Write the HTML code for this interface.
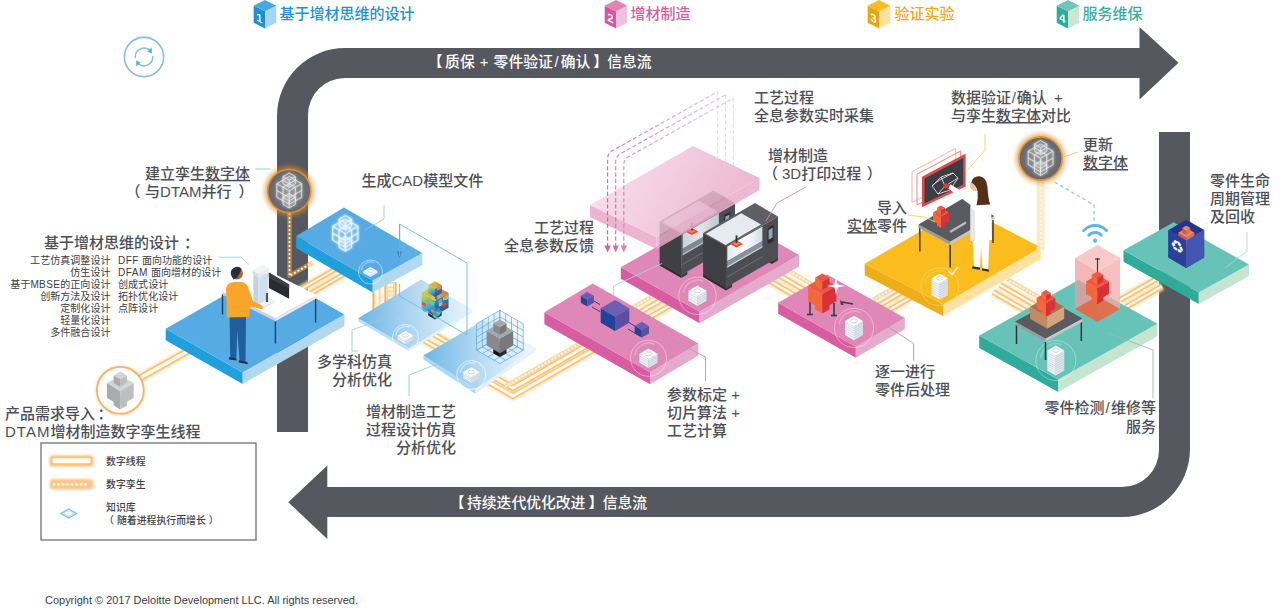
<!DOCTYPE html>
<html lang="zh"><head><meta charset="utf-8"><title>DTAM</title>
<style>
html,body{margin:0;padding:0;background:#fff;}
body{width:1282px;height:613px;overflow:hidden;font-family:"Liberation Sans","Noto Sans CJK SC",sans-serif;}
svg{display:block;}
svg text{font-family:"Liberation Sans","Noto Sans CJK SC",sans-serif;}
</style></head><body>
<svg width="1282" height="613" viewBox="0 0 1282 613">
<defs>
<linearGradient id="gP3" x1="0" y1="0" x2="1" y2="0"><stop offset="0" stop-color="#6db7e6"/><stop offset="0.55" stop-color="#b9dcf3"/><stop offset="1" stop-color="#eef6fc"/></linearGradient>
<linearGradient id="gP4" x1="0" y1="0" x2="1" y2="0"><stop offset="0" stop-color="#6db7e6"/><stop offset="0.6" stop-color="#c4e1f5"/><stop offset="1" stop-color="#f2f8fd"/></linearGradient>
<linearGradient id="gFloat" x1="0" y1="0.3" x2="1" y2="0.6"><stop offset="0" stop-color="#f7dce9"/><stop offset="1" stop-color="#e9a6c9"/></linearGradient>
<linearGradient id="gGlass" x1="0" y1="0" x2="1" y2="0"><stop offset="0" stop-color="#dfe9ef"/><stop offset="0.5" stop-color="#ffffff"/><stop offset="1" stop-color="#cfdde6"/></linearGradient>
<linearGradient id="gDash0" gradientUnits="userSpaceOnUse" x1="607" y1="200" x2="720" y2="92"><stop offset="0" stop-color="#d4609b"/><stop offset="1" stop-color="#f0c2d9"/></linearGradient>
<linearGradient id="gDash1" gradientUnits="userSpaceOnUse" x1="615" y1="200" x2="728" y2="95"><stop offset="0" stop-color="#d96fa5"/><stop offset="1" stop-color="#f0c2d9"/></linearGradient>
<linearGradient id="gDash2" gradientUnits="userSpaceOnUse" x1="623" y1="200" x2="736" y2="98"><stop offset="0" stop-color="#de80b0"/><stop offset="1" stop-color="#f2cadd"/></linearGradient>
<linearGradient id="gJetL" x1="0" y1="0" x2="0.3" y2="1"><stop offset="0" stop-color="#e8d23a"/><stop offset="0.4" stop-color="#7fc46a"/><stop offset="0.7" stop-color="#3aa6d8"/><stop offset="1" stop-color="#2a62b0"/></linearGradient>
<linearGradient id="gJetR" x1="0" y1="0" x2="0.2" y2="1"><stop offset="0" stop-color="#e2662c"/><stop offset="0.3" stop-color="#2f78c0"/><stop offset="1" stop-color="#1f3f86"/></linearGradient>
<linearGradient id="gJetT" x1="0" y1="0" x2="1" y2="0"><stop offset="0" stop-color="#d9c62f"/><stop offset="0.6" stop-color="#e9a62b"/><stop offset="1" stop-color="#e2552c"/></linearGradient>
<radialGradient id="gDisc"><stop offset="0" stop-color="#84868b"/><stop offset="1" stop-color="#64676c"/></radialGradient>
<filter id="blur1" x="-20%" y="-20%" width="140%" height="140%"><feGaussianBlur stdDeviation="1.3"/></filter>
<filter id="blur2" x="-30%" y="-30%" width="160%" height="160%"><feGaussianBlur stdDeviation="2"/></filter>
<filter id="blur05" x="-20%" y="-20%" width="140%" height="140%"><feGaussianBlur stdDeviation="0.6"/></filter>
</defs>
<rect width="1282" height="613" fill="#ffffff"/>
<path d="M277,432 L277,116 A68,68 0 0 1 345,48 L1139.5,48 L1139.5,27 L1178.5,62.8 L1139.5,99.5 L1139.5,78 L345,78 A37,37 0 0 0 308,115 L308,432 Z" fill="#55585e"/>
<path d="M1159,132 L1190,132 L1190,449 A68,68 0 0 1 1122,517 L327.3,517 L327.3,539 L288.3,502.2 L327.3,465.5 L327.3,487 L1122,487 A37,37 0 0 0 1159,450 Z" fill="#55585e"/>
<polygon points="253.7,5.7 265.0,11.3 265.0,28.4 253.7,22.7" fill="#1f8fd2" />
<polygon points="265.0,11.3 276.3,5.7 276.3,22.7 265.0,28.4" fill="#a8d6ee" />
<polygon points="253.7,5.7 265.0,0.1 276.3,5.7 265.0,11.3" fill="#4aa8e2" />
<text x="0" y="0" font-size="11.5" font-weight="700" fill="#fff" text-anchor="middle" font-family="DejaVu Sans, Liberation Sans, sans-serif" transform="translate(259.4,22) skewY(26.5)" opacity="0.92">1</text>
<polygon points="604.7,5.7 616.0,11.3 616.0,28.4 604.7,22.7" fill="#d6579e" />
<polygon points="616.0,11.3 627.3,5.7 627.3,22.7 616.0,28.4" fill="#efc3db" />
<polygon points="604.7,5.7 616.0,0.1 627.3,5.7 616.0,11.3" fill="#e283b4" />
<text x="0" y="0" font-size="11.5" font-weight="700" fill="#fff" text-anchor="middle" font-family="DejaVu Sans, Liberation Sans, sans-serif" transform="translate(610.4,22) skewY(26.5)" opacity="0.92">2</text>
<polygon points="867.7,5.7 879.0,11.3 879.0,28.4 867.7,22.7" fill="#e8a616" />
<polygon points="879.0,11.3 890.3,5.7 890.3,22.7 879.0,28.4" fill="#fbe2a0" />
<polygon points="867.7,5.7 879.0,0.1 890.3,5.7 879.0,11.3" fill="#fbbc1d" />
<text x="0" y="0" font-size="11.5" font-weight="700" fill="#fff" text-anchor="middle" font-family="DejaVu Sans, Liberation Sans, sans-serif" transform="translate(873.4,22) skewY(26.5)" opacity="0.92">3</text>
<polygon points="1056.7,5.7 1068.0,11.3 1068.0,28.4 1056.7,22.7" fill="#2fab9b" />
<polygon points="1068.0,11.3 1079.3,5.7 1079.3,22.7 1068.0,28.4" fill="#c9e8d2" />
<polygon points="1056.7,5.7 1068.0,0.1 1079.3,5.7 1068.0,11.3" fill="#6ec6ba" />
<text x="0" y="0" font-size="11.5" font-weight="700" fill="#fff" text-anchor="middle" font-family="DejaVu Sans, Liberation Sans, sans-serif" transform="translate(1062.4,22) skewY(26.5)" opacity="0.92">4</text>
<g fill="none" stroke="#86bde4" stroke-linecap="round"><circle cx="144" cy="57" r="19.6" stroke-width="1.6"/><path d="M135.3,57.5 A8.8,8.8 0 0 1 150.5,51" stroke-width="1.5"/><path d="M152.7,56.5 A8.8,8.8 0 0 1 137.5,63" stroke-width="1.5"/></g>
<path d="M147.3,51.6 L151.7,47.6 L151.8,53.4 Z" fill="#5aa9e0"/><path d="M140.7,62.4 L136.3,66.4 L136.2,60.6 Z" fill="#5aa9e0"/>
<polyline points="140.0,378.0 196.0,346.5" fill="none" stroke="#fcdcaa" stroke-width="9.5" stroke-linejoin="miter" opacity="0.75" filter="url(#blur1)"/>
<polyline points="140.0,378.0 196.0,346.5" fill="none" stroke="#f9c272" stroke-width="6.6" stroke-linejoin="miter"/>
<polyline points="140.0,378.0 196.0,346.5" fill="none" stroke="#fffaf1" stroke-width="3.4" stroke-linejoin="miter"/>
<polyline points="478.0,376.0 513.0,396.0 600.0,346.0" fill="none" stroke="#fcdcaa" stroke-width="9.0" stroke-linejoin="miter" opacity="0.75" filter="url(#blur1)"/>
<polyline points="478.0,376.0 513.0,396.0 600.0,346.0" fill="none" stroke="#f9c272" stroke-width="6.1" stroke-linejoin="miter"/>
<polyline points="478.0,376.0 513.0,396.0 600.0,346.0" fill="none" stroke="#fffaf1" stroke-width="2.9" stroke-linejoin="miter"/>
<polyline points="478.0,368.0 513.0,388.0 600.0,338.0" fill="none" stroke="#fcdcaa" stroke-width="9.0" stroke-linejoin="miter" opacity="0.75" filter="url(#blur1)"/>
<polyline points="478.0,368.0 513.0,388.0 600.0,338.0" fill="none" stroke="#f9c272" stroke-width="6.1" stroke-linejoin="miter"/>
<polyline points="478.0,368.0 513.0,388.0 600.0,338.0" fill="none" stroke="#fffaf1" stroke-width="2.9" stroke-linejoin="miter"/>
<polyline points="506.0,386.0 600.0,332.0" fill="none" stroke="#fbd6a2" stroke-width="4.6" opacity="0.95" filter="url(#blur05)"/>
<polyline points="506.0,386.0 600.0,332.0" fill="none" stroke="#fff5e4" stroke-width="2.3" stroke-dasharray="0.1 3.7" stroke-linecap="round"/>
<polyline points="428.0,331.0 468.0,354.0" fill="none" stroke="#fcdcaa" stroke-width="8.5" stroke-linejoin="miter" opacity="0.75" filter="url(#blur1)"/>
<polyline points="428.0,331.0 468.0,354.0" fill="none" stroke="#f9c272" stroke-width="5.6" stroke-linejoin="miter"/>
<polyline points="428.0,331.0 468.0,354.0" fill="none" stroke="#fffaf1" stroke-width="2.4" stroke-linejoin="miter"/>
<polyline points="420.0,338.0 460.0,361.0" fill="none" stroke="#fcdcaa" stroke-width="8.5" stroke-linejoin="miter" opacity="0.75" filter="url(#blur1)"/>
<polyline points="420.0,338.0 460.0,361.0" fill="none" stroke="#f9c272" stroke-width="5.6" stroke-linejoin="miter"/>
<polyline points="420.0,338.0 460.0,361.0" fill="none" stroke="#fffaf1" stroke-width="2.4" stroke-linejoin="miter"/>
<polyline points="630.0,318.0 672.0,294.0" fill="none" stroke="#fcdcaa" stroke-width="8.5" stroke-linejoin="miter" opacity="0.75" filter="url(#blur1)"/>
<polyline points="630.0,318.0 672.0,294.0" fill="none" stroke="#f9c272" stroke-width="5.6" stroke-linejoin="miter"/>
<polyline points="630.0,318.0 672.0,294.0" fill="none" stroke="#fffaf1" stroke-width="2.4" stroke-linejoin="miter"/>
<polyline points="636.0,325.0 678.0,301.0" fill="none" stroke="#fcdcaa" stroke-width="8.5" stroke-linejoin="miter" opacity="0.75" filter="url(#blur1)"/>
<polyline points="636.0,325.0 678.0,301.0" fill="none" stroke="#f9c272" stroke-width="5.6" stroke-linejoin="miter"/>
<polyline points="636.0,325.0 678.0,301.0" fill="none" stroke="#fffaf1" stroke-width="2.4" stroke-linejoin="miter"/>
<polyline points="625.0,312.0 667.0,288.0" fill="none" stroke="#fbd6a2" stroke-width="4.6" opacity="0.95" filter="url(#blur05)"/>
<polyline points="625.0,312.0 667.0,288.0" fill="none" stroke="#fff5e4" stroke-width="2.3" stroke-dasharray="0.1 3.7" stroke-linecap="round"/>
<polyline points="770.0,270.0 806.0,291.0" fill="none" stroke="#fcdcaa" stroke-width="8.5" stroke-linejoin="miter" opacity="0.75" filter="url(#blur1)"/>
<polyline points="770.0,270.0 806.0,291.0" fill="none" stroke="#f9c272" stroke-width="5.6" stroke-linejoin="miter"/>
<polyline points="770.0,270.0 806.0,291.0" fill="none" stroke="#fffaf1" stroke-width="2.4" stroke-linejoin="miter"/>
<polyline points="763.0,277.0 799.0,298.0" fill="none" stroke="#fcdcaa" stroke-width="8.5" stroke-linejoin="miter" opacity="0.75" filter="url(#blur1)"/>
<polyline points="763.0,277.0 799.0,298.0" fill="none" stroke="#f9c272" stroke-width="5.6" stroke-linejoin="miter"/>
<polyline points="763.0,277.0 799.0,298.0" fill="none" stroke="#fffaf1" stroke-width="2.4" stroke-linejoin="miter"/>
<polyline points="777.0,264.0 813.0,285.0" fill="none" stroke="#fbd6a2" stroke-width="4.6" opacity="0.95" filter="url(#blur05)"/>
<polyline points="777.0,264.0 813.0,285.0" fill="none" stroke="#fff5e4" stroke-width="2.3" stroke-dasharray="0.1 3.7" stroke-linecap="round"/>
<polyline points="878.0,306.0 928.0,277.0" fill="none" stroke="#fcdcaa" stroke-width="8.5" stroke-linejoin="miter" opacity="0.75" filter="url(#blur1)"/>
<polyline points="878.0,306.0 928.0,277.0" fill="none" stroke="#f9c272" stroke-width="5.6" stroke-linejoin="miter"/>
<polyline points="878.0,306.0 928.0,277.0" fill="none" stroke="#fffaf1" stroke-width="2.4" stroke-linejoin="miter"/>
<polyline points="884.0,313.0 934.0,284.0" fill="none" stroke="#fcdcaa" stroke-width="8.5" stroke-linejoin="miter" opacity="0.75" filter="url(#blur1)"/>
<polyline points="884.0,313.0 934.0,284.0" fill="none" stroke="#f9c272" stroke-width="5.6" stroke-linejoin="miter"/>
<polyline points="884.0,313.0 934.0,284.0" fill="none" stroke="#fffaf1" stroke-width="2.4" stroke-linejoin="miter"/>
<polyline points="873.0,300.0 923.0,271.0" fill="none" stroke="#fbd6a2" stroke-width="4.6" opacity="0.95" filter="url(#blur05)"/>
<polyline points="873.0,300.0 923.0,271.0" fill="none" stroke="#fff5e4" stroke-width="2.3" stroke-dasharray="0.1 3.7" stroke-linecap="round"/>
<polyline points="1000.0,285.0 1040.0,308.0" fill="none" stroke="#fcdcaa" stroke-width="8.5" stroke-linejoin="miter" opacity="0.75" filter="url(#blur1)"/>
<polyline points="1000.0,285.0 1040.0,308.0" fill="none" stroke="#f9c272" stroke-width="5.6" stroke-linejoin="miter"/>
<polyline points="1000.0,285.0 1040.0,308.0" fill="none" stroke="#fffaf1" stroke-width="2.4" stroke-linejoin="miter"/>
<polyline points="993.0,292.0 1033.0,315.0" fill="none" stroke="#fcdcaa" stroke-width="8.5" stroke-linejoin="miter" opacity="0.75" filter="url(#blur1)"/>
<polyline points="993.0,292.0 1033.0,315.0" fill="none" stroke="#f9c272" stroke-width="5.6" stroke-linejoin="miter"/>
<polyline points="993.0,292.0 1033.0,315.0" fill="none" stroke="#fffaf1" stroke-width="2.4" stroke-linejoin="miter"/>
<polyline points="1007.0,279.0 1047.0,302.0" fill="none" stroke="#fbd6a2" stroke-width="4.6" opacity="0.95" filter="url(#blur05)"/>
<polyline points="1007.0,279.0 1047.0,302.0" fill="none" stroke="#fff5e4" stroke-width="2.3" stroke-dasharray="0.1 3.7" stroke-linecap="round"/>
<polyline points="1120.0,300.0 1156.0,279.3" fill="none" stroke="#fcdcaa" stroke-width="8.5" stroke-linejoin="miter" opacity="0.75" filter="url(#blur1)"/>
<polyline points="1120.0,300.0 1156.0,279.3" fill="none" stroke="#f9c272" stroke-width="5.6" stroke-linejoin="miter"/>
<polyline points="1120.0,300.0 1156.0,279.3" fill="none" stroke="#fffaf1" stroke-width="2.4" stroke-linejoin="miter"/>
<polyline points="1126.0,307.0 1162.0,286.3" fill="none" stroke="#fcdcaa" stroke-width="8.5" stroke-linejoin="miter" opacity="0.75" filter="url(#blur1)"/>
<polyline points="1126.0,307.0 1162.0,286.3" fill="none" stroke="#f9c272" stroke-width="5.6" stroke-linejoin="miter"/>
<polyline points="1126.0,307.0 1162.0,286.3" fill="none" stroke="#fffaf1" stroke-width="2.4" stroke-linejoin="miter"/>
<polyline points="289.0,296.0 355.0,258.0" fill="none" stroke="#fcdcaa" stroke-width="8.0" stroke-linejoin="miter" opacity="0.75" filter="url(#blur1)"/>
<polyline points="289.0,296.0 355.0,258.0" fill="none" stroke="#f9c272" stroke-width="5.1" stroke-linejoin="miter"/>
<polyline points="289.0,296.0 355.0,258.0" fill="none" stroke="#fffaf1" stroke-width="1.9" stroke-linejoin="miter"/>
<polyline points="294.0,303.0 360.0,265.0" fill="none" stroke="#fcdcaa" stroke-width="8.0" stroke-linejoin="miter" opacity="0.75" filter="url(#blur1)"/>
<polyline points="294.0,303.0 360.0,265.0" fill="none" stroke="#f9c272" stroke-width="5.1" stroke-linejoin="miter"/>
<polyline points="294.0,303.0 360.0,265.0" fill="none" stroke="#fffaf1" stroke-width="1.9" stroke-linejoin="miter"/>
<polyline points="289.5,208.0 289.5,275.8 313.0,262.3" fill="none" stroke="#f7a843" stroke-width="4.5" opacity="0.55" filter="url(#blur05)" stroke-linejoin="round"/>
<polyline points="289.5,210.0 289.5,275.8 313.0,262.3" fill="none" stroke="#fff1dc" stroke-width="2.2" stroke-dasharray="0.1 3.9" stroke-linecap="round" />
<g >
<polygon points="165.7,328.8 242.7,372.4 242.7,383.9 165.7,340.3" fill="#1f9fdc" />
<polygon points="242.7,372.4 344.5,314.4 344.5,325.9 242.7,383.9" fill="#b0d9f0" />
<polygon points="165.7,328.8 267.5,270.8 344.5,314.4 242.7,372.4" fill="#56abe4" />
</g>
<polyline points="222.5,294.0 222.5,314.5" fill="none" stroke="#1c3f63" stroke-width="1.4" />
<polyline points="315.6,298.0 315.6,322.5" fill="none" stroke="#1c3f63" stroke-width="1.4" />
<polygon points="222.5,291.5 275.4,318.3 275.4,321.3 222.5,294.5" fill="#cdd2da" />
<polygon points="275.4,318.3 316.8,295.2 316.8,298.2 275.4,321.3" fill="#e6e9ee" />
<polygon points="222.5,291.5 263.9,268.4 316.8,295.2 275.4,318.3" fill="#ffffff" />
<polyline points="275.4,321.5 275.4,343.5" fill="none" stroke="#1c3f63" stroke-width="1.4" />
<g >
<polygon points="253.5,303.5 263.0,309.0 263.0,307.0 253.5,301.5" fill="#d5dae0" />
<polygon points="263.0,309.0 274.3,302.5 274.3,300.5 263.0,307.0" fill="#e3e7eb" />
<polygon points="253.5,301.5 264.7,295.0 274.3,300.5 263.0,307.0" fill="#f1f3f6" />
</g>
<g >
<polygon points="253.3,301.5 258.5,304.5 258.5,277.5 253.3,274.5" fill="#c3d3e0" />
<polygon points="258.5,304.5 268.0,299.0 268.0,272.0 258.5,277.5" fill="#cfe1ee" />
<polygon points="253.3,274.5 262.8,269.0 268.0,272.0 258.5,277.5" fill="#e9edf1" />
</g>
<g >
<polygon points="252.4,274.0 258.5,277.5 258.5,274.0 252.4,270.5" fill="#d9dde2" />
<polygon points="258.5,277.5 268.9,271.5 268.9,268.0 258.5,274.0" fill="#e8ebee" />
<polygon points="252.4,270.5 262.8,264.5 268.9,268.0 258.5,274.0" fill="#f1f3f5" />
</g>
<polyline points="267.0,293.0 267.0,302.0" fill="none" stroke="#4d5660" stroke-width="2.2" />
<polygon points="268.9,272.6 289.1,284.6 289.1,298.8 268.9,288.0" fill="#2a2c31" />
<polygon points="268.9,272.6 289.1,284.6 289.1,288.0 268.9,278.0" fill="#3d4047" />
<g>
<path d="M229.6,316 L230.2,357.5 L236.3,358.8 L237.3,330 L239.5,360.5 L245.5,362.2 L246,316 Z" fill="#1f5f9e"/>
<path d="M229,357 l7.5,1.6 l0,2 l-7.5,-1.2z M238.8,360.2 l8.5,1.8 l0.5,2.2 l-9,-1.6z" fill="#2b2f3a"/>
<path d="M226,290 Q226,282.5 234,282 L242,282 Q247.5,283 249,290 L253,301 L262.8,306 L262,309.2 L250.5,306.5 L249,317 L227,317.5 Z" fill="#f9a42a"/>
<circle cx="237" cy="273.5" r="6" fill="#a66a3c"/>
<path d="M231,274.5 A6.2,6.2 0 0 1 241.5,268.8 L240,272.5 L237.5,277.5 L233.5,279.5 Z" fill="#2b2f3a"/>
</g>
<rect x="372.5" y="282" width="24" height="40" fill="#fbd9a3"/>
<rect x="375" y="282" width="3.6" height="40" fill="#fff6e8"/><rect x="380.6" y="282" width="3.6" height="40" fill="#fff6e8"/>
<rect x="372.5" y="282" width="1.6" height="40" fill="#f8b55d"/><rect x="384.6" y="282" width="1.4" height="40" fill="#f8b55d"/><rect x="395" y="282" width="1.5" height="40" fill="#f8b55d"/>
<polyline points="390.5,284.0 390.5,322.0" fill="none" stroke="#fff6e8" stroke-width="5" stroke-dasharray="2.4 1.8"/>
<polygon points="358.3,318.3 409.2,348.3 409.2,351.3 358.3,321.3" fill="#bfe0f4" />
<polygon points="409.2,348.3 472.0,309.5 472.0,312.5 409.2,351.3" fill="#e3f1fa" />
<polygon points="358.3,318.3 421.1,279.5 472.0,309.5 409.2,348.3" fill="url(#gP3)" />
<circle cx="405.5" cy="337.5" r="13.0" fill="none" stroke="#ffffff" stroke-width="0.8" opacity="0.8"/>
<path d="M395.7,335.4 a10.2,10.2 0 0 1 14.1,-8.1" fill="none" stroke="#ffffff" stroke-width="1.5" opacity="0.44000000000000006"/>
<g >
<polygon points="397.7,339.5 405.5,344.0 405.5,340.0 397.7,335.5" fill="#f3f6f9" />
<polygon points="405.5,344.0 413.3,339.5 413.3,335.5 405.5,340.0" fill="#dde5ec" />
<polygon points="397.7,335.5 405.5,331.0 413.3,335.5 405.5,340.0" fill="#ffffff" />
</g>
<polyline points="397.7,337.5 405.5,342.0 413.3,337.5" fill="none" stroke="#b9c6d1" stroke-width="0.55" />
<ellipse cx="405.5" cy="335.5" rx="3.0" ry="1.7" fill="none" stroke="#b4c3cf" stroke-width="0.7"/>
<polygon points="423.3,355.5 475.6,389.0 475.6,394.0 423.3,359.5" fill="#addaf2" />
<polygon points="475.6,389.0 536.3,347.5 536.3,350.5 475.6,394.0" fill="#e6f2fb" />
<polygon points="423.3,355.5 484.0,320.0 536.3,347.5 475.6,389.0" fill="url(#gP4)" />
<circle cx="471.3" cy="375.0" r="14.5" fill="none" stroke="#ffffff" stroke-width="0.8" opacity="0.8"/>
<path d="M460.3,372.6 a11.4,11.4 0 0 1 15.7,-9.0" fill="none" stroke="#ffffff" stroke-width="1.5" opacity="0.44000000000000006"/>
<g >
<polygon points="463.1,378.0 471.3,382.8 471.3,376.8 463.1,372.0" fill="#f3f6f9" />
<polygon points="471.3,382.8 479.5,378.0 479.5,372.0 471.3,376.8" fill="#dde5ec" />
<polygon points="463.1,372.0 471.3,367.2 479.5,372.0 471.3,376.8" fill="#ffffff" />
</g>
<polyline points="463.1,376.0 471.3,380.8 479.5,376.0" fill="none" stroke="#b9c6d1" stroke-width="0.55" />
<polyline points="463.1,374.0 471.3,378.8 479.5,374.0" fill="none" stroke="#b9c6d1" stroke-width="0.55" />
<ellipse cx="471.3" cy="372.0" rx="3.1" ry="1.8" fill="none" stroke="#b4c3cf" stroke-width="0.7"/>
<g fill="none" stroke="#4a9ad4" stroke-width="0.6">
<polygon points="476.6,350.2 499.9,363.6 523.2,350.2 499.9,336.7" fill="#d9ecf9" fill-opacity="0.75"/>
<polygon points="476.6,350.2 499.9,336.7 499.9,310.3 476.6,323.8" fill="#cfe6f6" fill-opacity="0.55"/>
<polygon points="499.9,336.7 523.2,350.2 523.2,323.8 499.9,310.3" fill="#e3f1fb" fill-opacity="0.55"/>
<polyline points="482.4,353.5 505.7,340.1 505.7,313.7"/>
<polyline points="517.4,353.5 494.1,340.1 494.1,313.7"/>
<polyline points="476.6,343.6 499.9,330.1 523.2,343.6"/>
<polyline points="488.3,356.9 511.5,343.4 511.5,317.0"/>
<polyline points="511.5,356.9 488.3,343.4 488.3,317.0"/>
<polyline points="476.6,337.0 499.9,323.5 523.2,337.0"/>
<polyline points="494.1,360.2 517.4,346.8 517.4,320.4"/>
<polyline points="505.7,360.2 482.4,346.8 482.4,320.4"/>
<polyline points="476.6,330.4 499.9,316.9 523.2,330.4"/>
</g>
<g >
<polygon points="493.3,353.2 499.9,357.0 499.9,349.4 493.3,345.5" fill="#111" />
<polygon points="499.9,357.0 506.5,353.2 506.5,345.5 499.9,349.4" fill="#2a2a2a" />
<polygon points="493.3,345.5 499.9,341.7 506.5,345.5 499.9,349.4" fill="#444" />
</g>
<g >
<polygon points="486.6,345.5 499.9,353.2 499.9,338.6 486.6,331.0" fill="#88898d" />
<polygon points="499.9,353.2 513.2,345.5 513.2,331.0 499.9,338.6" fill="#78797d" />
<polygon points="486.6,331.0 499.9,323.3 513.2,331.0 499.9,338.6" fill="#a7a8ab" />
</g>
<g >
<polygon points="493.3,331.0 499.9,334.8 499.9,327.2 493.3,323.3" fill="#88898d" />
<polygon points="499.9,334.8 506.5,331.0 506.5,323.3 499.9,327.2" fill="#78797d" />
<polygon points="493.3,323.3 499.9,319.5 506.5,323.3 499.9,327.2" fill="#a7a8ab" />
</g>
<g >
<polygon points="428.2,315.6 435.0,319.5 435.0,311.7 428.2,307.8" fill="#1c2a44" />
<polygon points="435.0,319.5 441.8,315.6 441.8,307.8 435.0,311.7" fill="#22345a" />
<polygon points="428.2,307.8 435.0,303.9 441.8,307.8 435.0,311.7" fill="#333" />
</g>
<g >
<polygon points="421.5,307.8 435.0,315.6 435.0,300.8 421.5,293.0" fill="url(#gJetL)" />
<polygon points="435.0,315.6 448.5,307.8 448.5,293.0 435.0,300.8" fill="url(#gJetR)" />
<polygon points="421.5,293.0 435.0,285.2 448.5,293.0 435.0,300.8" fill="url(#gJetT)" />
</g>
<g >
<polygon points="428.2,293.0 435.0,296.9 435.0,289.1 428.2,285.2" fill="url(#gJetL)" />
<polygon points="435.0,296.9 441.8,293.0 441.8,285.2 435.0,289.1" fill="url(#gJetR)" />
<polygon points="428.2,285.2 435.0,281.3 441.8,285.2 435.0,289.1" fill="url(#gJetT)" />
</g>
<g opacity="0.9">
<rect x="426.7" y="299.4" width="3.6" height="3.2" fill="#f08a2a" transform="skewY(26)" style="transform-box:fill-box"/>
<rect x="443.0" y="297.2" width="3.6" height="3.2" fill="#f2c52b" transform="skewY(-26)" style="transform-box:fill-box"/>
<rect x="435.5" y="311.1" width="3.6" height="3.2" fill="#d9d93a" transform="skewY(-26)" style="transform-box:fill-box"/>
<rect x="444.9" y="297.0" width="3.6" height="3.2" fill="#d9d93a" transform="skewY(-26)" style="transform-box:fill-box"/>
<rect x="430.5" y="309.6" width="3.6" height="3.2" fill="#2a5fae" transform="skewY(26)" style="transform-box:fill-box"/>
<rect x="436.2" y="309.8" width="3.6" height="3.2" fill="#1d9fd8" transform="skewY(-26)" style="transform-box:fill-box"/>
<rect x="438.8" y="303.5" width="3.6" height="3.2" fill="#f2c52b" transform="skewY(-26)" style="transform-box:fill-box"/>
<rect x="422.0" y="307.0" width="3.6" height="3.2" fill="#7cc576" transform="skewY(26)" style="transform-box:fill-box"/>
<rect x="432.3" y="305.0" width="3.6" height="3.2" fill="#1d9fd8" transform="skewY(26)" style="transform-box:fill-box"/>
<rect x="438.1" y="311.5" width="3.6" height="3.2" fill="#1d9fd8" transform="skewY(-26)" style="transform-box:fill-box"/>
<rect x="438.5" y="300.5" width="3.6" height="3.2" fill="#4fb9e6" transform="skewY(-26)" style="transform-box:fill-box"/>
<rect x="444.2" y="296.0" width="3.6" height="3.2" fill="#7cc576" transform="skewY(-26)" style="transform-box:fill-box"/>
<rect x="431.1" y="308.7" width="3.6" height="3.2" fill="#f08a2a" transform="skewY(26)" style="transform-box:fill-box"/>
<rect x="433.8" y="295.0" width="3.6" height="3.2" fill="#2a5fae" transform="skewY(26)" style="transform-box:fill-box"/>
<rect x="442.7" y="303.8" width="3.6" height="3.2" fill="#e23b2a" transform="skewY(-26)" style="transform-box:fill-box"/>
<rect x="437.1" y="287.2" width="3.6" height="3.2" fill="#f08a2a" transform="skewY(-26)" style="transform-box:fill-box"/>
<rect x="434.7" y="304.8" width="3.6" height="3.2" fill="#2a5fae" transform="skewY(26)" style="transform-box:fill-box"/>
<rect x="436.2" y="313.6" width="3.6" height="3.2" fill="#7cc576" transform="skewY(-26)" style="transform-box:fill-box"/>
<rect x="423.1" y="307.6" width="3.6" height="3.2" fill="#1d9fd8" transform="skewY(26)" style="transform-box:fill-box"/>
<rect x="431.3" y="295.3" width="3.6" height="3.2" fill="#f2c52b" transform="skewY(26)" style="transform-box:fill-box"/>
<rect x="422.1" y="301.7" width="3.6" height="3.2" fill="#e23b2a" transform="skewY(26)" style="transform-box:fill-box"/>
<rect x="430.1" y="300.8" width="3.6" height="3.2" fill="#7cc576" transform="skewY(26)" style="transform-box:fill-box"/>
<rect x="433.1" y="314.0" width="3.6" height="3.2" fill="#7cc576" transform="skewY(26)" style="transform-box:fill-box"/>
<rect x="433.9" y="312.4" width="3.6" height="3.2" fill="#1d9fd8" transform="skewY(26)" style="transform-box:fill-box"/>
</g>
<g >
<polygon points="296.2,236.1 372.7,280.5 372.7,292.5 296.2,248.1" fill="#1f9fdc" />
<polygon points="372.7,280.5 422.3,253.1 422.3,265.1 372.7,292.5" fill="#b0d9f0" />
<polygon points="296.2,236.1 344.0,207.4 422.3,253.1 372.7,280.5" fill="#56abe4" />
</g>
<g filter="url(#blur1)" opacity="0.8">
<g fill="none" stroke="#ffffff" stroke-width="1.6" stroke-linejoin="round" >
<polygon points="339.0,247.4 345.3,251.0 351.6,247.4 351.6,240.1 345.3,236.5 339.0,240.1" fill="none"/>
<polyline points="339.0,240.1 345.3,243.8 351.6,240.1"/>
<polyline points="345.3,243.8 345.3,251.0"/>
</g>
<g fill="none" stroke="#ffffff" stroke-width="1.6" stroke-linejoin="round" >
<polygon points="332.7,240.1 345.3,247.4 357.9,240.1 357.9,226.3 345.3,219.1 332.7,226.3" fill="none"/>
<polyline points="332.7,226.3 345.3,233.6 357.9,226.3"/>
<polyline points="345.3,233.6 345.3,247.4"/>
<polyline points="339.0,243.8 339.0,230.0 351.6,222.7"/>
<polyline points="351.6,243.8 351.6,230.0 339.0,222.7"/>
<polyline points="332.7,233.2 345.3,240.5 357.9,233.2"/>
</g>
<g fill="none" stroke="#ffffff" stroke-width="1.6" stroke-linejoin="round" >
<polygon points="339.0,226.3 345.3,230.0 351.6,226.3 351.6,219.1 345.3,215.5 339.0,219.1" fill="none"/>
<polyline points="339.0,219.1 345.3,222.7 351.6,219.1"/>
<polyline points="345.3,222.7 345.3,230.0"/>
</g>
</g>
<g fill="none" stroke="#f2f9fe" stroke-width="0.8" stroke-linejoin="round" >
<polygon points="339.0,247.4 345.3,251.0 351.6,247.4 351.6,240.1 345.3,236.5 339.0,240.1" fill="rgba(255,255,255,0.10)"/>
<polyline points="339.0,240.1 345.3,243.8 351.6,240.1"/>
<polyline points="345.3,243.8 345.3,251.0"/>
</g>
<g fill="none" stroke="#f2f9fe" stroke-width="0.8" stroke-linejoin="round" >
<polygon points="332.7,240.1 345.3,247.4 357.9,240.1 357.9,226.3 345.3,219.1 332.7,226.3" fill="rgba(255,255,255,0.10)"/>
<polyline points="332.7,226.3 345.3,233.6 357.9,226.3"/>
<polyline points="345.3,233.6 345.3,247.4"/>
<polyline points="339.0,243.8 339.0,230.0 351.6,222.7"/>
<polyline points="351.6,243.8 351.6,230.0 339.0,222.7"/>
<polyline points="332.7,233.2 345.3,240.5 357.9,233.2"/>
</g>
<g fill="none" stroke="#f2f9fe" stroke-width="0.8" stroke-linejoin="round" >
<polygon points="339.0,226.3 345.3,230.0 351.6,226.3 351.6,219.1 345.3,215.5 339.0,219.1" fill="rgba(255,255,255,0.10)"/>
<polyline points="339.0,219.1 345.3,222.7 351.6,219.1"/>
<polyline points="345.3,222.7 345.3,230.0"/>
</g>
<circle cx="370.5" cy="272.0" r="12.0" fill="none" stroke="#ffffff" stroke-width="0.8" opacity="0.6"/>
<path d="M361.4,270.1 a9.4,9.4 0 0 1 13.0,-7.5" fill="none" stroke="#ffffff" stroke-width="1.5" opacity="0.33"/>
<g >
<polygon points="363.4,273.0 370.5,277.1 370.5,275.1 363.4,271.0" fill="#f3f6f9" />
<polygon points="370.5,277.1 377.6,273.0 377.6,271.0 370.5,275.1" fill="#dde5ec" />
<polygon points="363.4,271.0 370.5,266.9 377.6,271.0 370.5,275.1" fill="#ffffff" />
</g>
<ellipse cx="370.5" cy="271.0" rx="2.7" ry="1.6" fill="none" stroke="#b4c3cf" stroke-width="0.7"/>
<polyline points="384.0,205.0 384.0,219.0 365.0,230.0" fill="none" stroke="#8cc4e6" stroke-width="0.8" />
<polyline points="399.6,224.0 399.6,254.0" fill="none" stroke="#2a86c2" stroke-width="1" />
<path d="M397,251.5 L402.2,251.5 L399.6,258 Z" fill="#2a86c2"/>
<polyline points="399.6,256.0 399.6,224.0 467.0,263.0 467.0,335.0 399.6,296.0 399.6,284.0" fill="none" stroke="#6db9dc" stroke-width="0.9" />
<polygon points="399.6,224.0 467.0,263.0 467.0,335.0 399.6,296.0" fill="#bfe0f4" opacity="0.08"/>
<g >
<polygon points="620.8,267.3 699.6,311.8 699.6,323.3 620.8,278.8" fill="#d75ca1" />
<polygon points="699.6,311.8 799.0,255.0 799.0,266.5 699.6,323.3" fill="#e4abcc" />
<polygon points="620.8,267.3 720.2,210.5 799.0,255.0 699.6,311.8" fill="#df87b6" />
</g>
<circle cx="697.5" cy="295.8" r="18.7" fill="none" stroke="#ffffff" stroke-width="0.8" opacity="0.5"/>
<path d="M683.3,292.8 a14.7,14.7 0 0 1 20.2,-11.6" fill="none" stroke="#ffffff" stroke-width="1.5" opacity="0.275"/>
<g >
<polygon points="688.5,300.8 697.5,306.0 697.5,296.0 688.5,290.8" fill="#f3f6f9" />
<polygon points="697.5,306.0 706.5,300.8 706.5,290.8 697.5,296.0" fill="#dde5ec" />
<polygon points="688.5,290.8 697.5,285.6 706.5,290.8 697.5,296.0" fill="#ffffff" />
</g>
<polyline points="688.5,298.3 697.5,303.5 706.5,298.3" fill="none" stroke="#b9c6d1" stroke-width="0.55" />
<polyline points="688.5,295.8 697.5,301.0 706.5,295.8" fill="none" stroke="#b9c6d1" stroke-width="0.55" />
<polyline points="688.5,293.3 697.5,298.5 706.5,293.3" fill="none" stroke="#b9c6d1" stroke-width="0.55" />
<ellipse cx="697.5" cy="290.8" rx="3.4" ry="2.0" fill="none" stroke="#b4c3cf" stroke-width="0.7"/>
<g >
<polygon points="659.6,265.5 681.3,278.0 681.3,275.0 659.6,262.5" fill="#2c2e31" />
<polygon points="681.3,278.0 687.4,274.5 687.4,271.5 681.3,275.0" fill="#3a3c40" />
<polygon points="659.6,262.5 665.7,259.0 687.4,271.5 681.3,275.0" fill="#3a3c40" />
</g>
<g >
<polygon points="707.3,238.0 728.9,250.5 728.9,247.5 707.3,235.0" fill="#2c2e31" />
<polygon points="728.9,250.5 735.0,247.0 735.0,244.0 728.9,247.5" fill="#3a3c40" />
<polygon points="707.3,235.0 713.3,231.5 735.0,244.0 728.9,247.5" fill="#3a3c40" />
</g>
<g >
<polygon points="659.6,262.5 681.3,275.0 681.3,234.0 659.6,221.5" fill="#3e4044" />
<polygon points="681.3,275.0 735.0,244.0 735.0,203.0 681.3,234.0" fill="#4c4e53" />
<polygon points="659.6,221.5 713.3,190.5 735.0,203.0 681.3,234.0" fill="#5d5f64" />
</g>
<g opacity="0.85">
<polygon points="680.9,232.8 717.6,211.6 699.0,200.8 662.2,222.0" fill="#e4ecf1" />
<polygon points="682.6,234.2 718.9,213.3 718.9,227.9 682.6,248.8" fill="url(#gGlass)" />
<polygon points="682.6,248.8 718.9,227.9 718.9,232.8 682.6,253.8" fill="#8794a0" />
<polygon points="682.6,253.8 718.9,232.8 718.9,234.4 682.6,255.4" fill="#c9d3db" />
</g>
<polyline points="682.6,264.4 718.9,243.5" fill="none" stroke="#6d7076" stroke-width="1" />
<polygon points="724.3,231.3 730.3,227.8 730.3,211.4 724.3,214.9" fill="#2a2c30" />
<polygon points="725.3,226.6 729.3,224.3 729.3,214.5 725.3,216.8" fill="#8aa6bb" />
<polygon points="685.3,231.5 691.8,235.1 698.3,231.5 691.8,227.9" fill="#ef4a2e" />
<polygon points="688.2,231.2 691.8,233.1 695.4,231.2 691.8,229.3" fill="#ff8258" />
<polyline points="691.8,230.5 691.8,223.0" fill="none" stroke="#34363a" stroke-width="1.9" />
<g opacity="0.84">
<polygon points="590.0,205.0 656.5,237.0 656.5,249.0 590.0,217.0" fill="#e9a6c9" />
<polygon points="656.5,237.0 759.5,178.0 759.5,190.0 656.5,249.0" fill="#e9abcb" />
<polygon points="590.0,205.0 693.0,146.0 759.5,178.0 656.5,237.0" fill="url(#gFloat)" />
</g>
<g >
<polygon points="703.1,277.1 726.0,290.4 726.0,287.4 703.1,274.1" fill="#2c2e31" />
<polygon points="726.0,290.4 732.1,286.9 732.1,283.9 726.0,287.4" fill="#3a3c40" />
<polygon points="703.1,274.1 709.1,270.6 732.1,283.9 726.0,287.4" fill="#3a3c40" />
</g>
<g >
<polygon points="748.9,250.6 771.9,263.9 771.9,260.9 748.9,247.6" fill="#2c2e31" />
<polygon points="771.9,263.9 778.0,260.4 778.0,257.4 771.9,260.9" fill="#3a3c40" />
<polygon points="748.9,247.6 755.0,244.1 778.0,257.4 771.9,260.9" fill="#3a3c40" />
</g>
<g >
<polygon points="703.1,274.1 726.0,287.4 726.0,246.4 703.1,233.1" fill="#3e4044" />
<polygon points="726.0,287.4 778.0,257.4 778.0,216.4 726.0,246.4" fill="#4c4e53" />
<polygon points="703.1,233.1 755.0,203.1 778.0,216.4 726.0,246.4" fill="#5d5f64" />
</g>
<g opacity="1">
<polygon points="725.6,245.1 761.1,224.6 741.3,213.2 705.8,233.7" fill="#e4ecf1" />
<polygon points="727.3,246.6 762.4,226.4 762.4,241.0 727.3,261.2" fill="url(#gGlass)" />
<polygon points="727.3,261.2 762.4,241.0 762.4,245.9 727.3,266.1" fill="#8794a0" />
<polygon points="727.3,266.1 762.4,245.9 762.4,247.5 727.3,267.8" fill="#c9d3db" />
</g>
<polyline points="727.3,276.8 762.4,256.6" fill="none" stroke="#6d7076" stroke-width="1" />
<polygon points="767.6,244.5 773.6,241.0 773.6,224.6 767.6,228.1" fill="#2a2c30" />
<polygon points="768.6,239.8 772.6,237.5 772.6,227.7 768.6,230.0" fill="#8aa6bb" />
<polygon points="730.0,243.9 736.5,247.5 743.0,243.9 736.5,240.3" fill="#ef4a2e" />
<polygon points="732.9,243.6 736.5,245.5 740.1,243.6 736.5,241.7" fill="#ff8258" />
<polyline points="736.5,242.9 736.5,235.4" fill="none" stroke="#34363a" stroke-width="1.9" />
<path d="M607.6,247 L607.6,158.4 Q607.6,153.4 612.6,150.6 L717.7,91.7" fill="none" stroke="url(#gDash0)" stroke-width="1.15" stroke-dasharray="4 2.4"/>
<polyline points="717.7,91.7 717.7,159.0" fill="none" stroke="#f3cfe1" stroke-width="1" stroke-dasharray="4 2.4"/>
<path d="M604.4,245.5 l6.4,0 l-3.2,7 z" fill="#d4609b"/>
<path d="M615.7,247 L615.7,161.4 Q615.7,156.4 620.7,153.6 L725.5,94.9" fill="none" stroke="url(#gDash1)" stroke-width="1.15" stroke-dasharray="4 2.4"/>
<polyline points="725.5,94.9 725.5,163.5" fill="none" stroke="#f3cfe1" stroke-width="1" stroke-dasharray="4 2.4"/>
<path d="M612.5,245.5 l6.4,0 l-3.2,7 z" fill="#d96fa5"/>
<path d="M623.8,247 L623.8,164.4 Q623.8,159.4 628.8,156.6 L733.3,98.1" fill="none" stroke="url(#gDash2)" stroke-width="1.15" stroke-dasharray="4 2.4"/>
<polyline points="733.3,98.1 733.3,168.0" fill="none" stroke="#f3cfe1" stroke-width="1" stroke-dasharray="4 2.4"/>
<path d="M620.6,245.5 l6.4,0 l-3.2,7 z" fill="#de80b0"/>
<g >
<polygon points="544.4,312.2 650.1,372.3 650.1,384.3 544.4,324.2" fill="#d75ca1" />
<polygon points="650.1,372.3 698.4,343.6 698.4,355.6 650.1,384.3" fill="#e4abcc" />
<polygon points="544.4,312.2 592.7,283.5 698.4,343.6 650.1,372.3" fill="#df87b6" />
</g>
<circle cx="648.5" cy="358.3" r="18.0" fill="none" stroke="#ffffff" stroke-width="0.8" opacity="0.5"/>
<path d="M634.9,355.4 a14.1,14.1 0 0 1 19.5,-11.2" fill="none" stroke="#ffffff" stroke-width="1.5" opacity="0.275"/>
<g >
<polygon points="639.5,362.8 648.5,368.0 648.5,359.0 639.5,353.8" fill="#f3f6f9" />
<polygon points="648.5,368.0 657.5,362.8 657.5,353.8 648.5,359.0" fill="#dde5ec" />
<polygon points="639.5,353.8 648.5,348.6 657.5,353.8 648.5,359.0" fill="#ffffff" />
</g>
<polyline points="639.5,360.6 648.5,365.8 657.5,360.6" fill="none" stroke="#b9c6d1" stroke-width="0.55" />
<polyline points="639.5,358.3 648.5,363.5 657.5,358.3" fill="none" stroke="#b9c6d1" stroke-width="0.55" />
<polyline points="639.5,356.1 648.5,361.2 657.5,356.1" fill="none" stroke="#b9c6d1" stroke-width="0.55" />
<ellipse cx="648.5" cy="353.8" rx="3.4" ry="2.0" fill="none" stroke="#b4c3cf" stroke-width="0.7"/>
<polyline points="592.0,300.0 600.0,304.5" fill="none" stroke="#3b3f8f" stroke-width="1" />
<polyline points="592.0,307.0 600.0,311.5" fill="none" stroke="#3b3f8f" stroke-width="1" />
<polyline points="628.0,322.0 640.0,329.0" fill="none" stroke="#3b3f8f" stroke-width="1" />
<polyline points="628.0,329.0 640.0,336.0" fill="none" stroke="#3b3f8f" stroke-width="1" />
<g >
<polygon points="580.8,302.8 587.3,306.5 587.3,299.5 580.8,295.8" fill="#23439b" />
<polygon points="587.3,306.5 593.8,302.8 593.8,295.8 587.3,299.5" fill="#5a4fa3" />
<polygon points="580.8,295.8 587.3,292.0 593.8,295.8 587.3,299.5" fill="#6a5fb0" />
</g>
<g >
<polygon points="600.7,322.8 615.0,331.0 615.0,316.5 600.7,308.2" fill="#23439b" />
<polygon points="615.0,331.0 629.3,322.8 629.3,308.2 615.0,316.5" fill="#5a4fa3" />
<polygon points="600.7,308.2 615.0,300.0 629.3,308.2 615.0,316.5" fill="#6a5fb0" />
</g>
<g >
<polygon points="634.6,333.4 641.8,337.5 641.8,330.0 634.6,325.9" fill="#23439b" />
<polygon points="641.8,337.5 649.0,333.4 649.0,325.9 641.8,330.0" fill="#5a4fa3" />
<polygon points="634.6,325.9 641.8,321.7 649.0,325.9 641.8,330.0" fill="#6a5fb0" />
</g>
<polyline points="613.4,295.0 613.4,286.0 662.0,263.5" fill="none" stroke="#a9cfe0" stroke-width="0.9" />
<g >
<polygon points="778.2,302.8 855.8,346.8 855.8,357.8 778.2,313.8" fill="#d75ca1" />
<polygon points="855.8,346.8 904.8,318.1 904.8,329.1 855.8,357.8" fill="#e4abcc" />
<polygon points="778.2,302.8 827.1,274.4 904.8,318.1 855.8,346.8" fill="#df87b6" />
</g>
<circle cx="854.0" cy="328.0" r="19.6" fill="none" stroke="#ffffff" stroke-width="0.8" opacity="0.5"/>
<path d="M839.2,324.8 a15.4,15.4 0 0 1 21.2,-12.2" fill="none" stroke="#ffffff" stroke-width="1.5" opacity="0.275"/>
<g >
<polygon points="845.0,335.0 854.0,340.2 854.0,326.2 845.0,321.0" fill="#f3f6f9" />
<polygon points="854.0,340.2 863.0,335.0 863.0,321.0 854.0,326.2" fill="#dde5ec" />
<polygon points="845.0,321.0 854.0,315.8 863.0,321.0 854.0,326.2" fill="#ffffff" />
</g>
<polyline points="845.0,332.7 854.0,337.9 863.0,332.7" fill="none" stroke="#b9c6d1" stroke-width="0.55" />
<polyline points="845.0,330.3 854.0,335.5 863.0,330.3" fill="none" stroke="#b9c6d1" stroke-width="0.55" />
<polyline points="845.0,328.0 854.0,333.2 863.0,328.0" fill="none" stroke="#b9c6d1" stroke-width="0.55" />
<polyline points="845.0,325.7 854.0,330.9 863.0,325.7" fill="none" stroke="#b9c6d1" stroke-width="0.55" />
<polyline points="845.0,323.3 854.0,328.5 863.0,323.3" fill="none" stroke="#b9c6d1" stroke-width="0.55" />
<ellipse cx="854.0" cy="321.0" rx="3.4" ry="2.0" fill="none" stroke="#b4c3cf" stroke-width="0.7"/>
<polyline points="810.0,300.0 810.0,314.0" fill="none" stroke="#3a3c40" stroke-width="1.6" />
<polyline points="834.0,303.0 834.0,315.0" fill="none" stroke="#3a3c40" stroke-width="1.6" />
<polyline points="807.0,314.5 813.0,314.5" fill="none" stroke="#3a3c40" stroke-width="1.6" />
<polyline points="831.0,315.5 837.0,315.5" fill="none" stroke="#3a3c40" stroke-width="1.6" />
<g >
<polygon points="815.2,309.4 822.3,313.5 822.3,305.4 815.2,301.3" fill="#f26838" />
<polygon points="822.3,313.5 829.4,309.4 829.4,301.3 822.3,305.4" fill="#d9303a" />
<polygon points="815.2,301.3 822.3,297.2 829.4,301.3 822.3,305.4" fill="#ee5742" />
</g>
<g >
<polygon points="808.2,301.3 822.3,309.4 822.3,293.9 808.2,285.8" fill="#f26838" />
<polygon points="822.3,309.4 836.4,301.3 836.4,285.8 822.3,293.9" fill="#d9303a" />
<polygon points="808.2,285.8 822.3,277.6 836.4,285.8 822.3,293.9" fill="#ee5742" />
</g>
<g >
<polygon points="815.2,285.8 822.3,289.9 822.3,281.7 815.2,277.6" fill="#f26838" />
<polygon points="822.3,289.9 829.4,285.8 829.4,277.6 822.3,281.7" fill="#d9303a" />
<polygon points="815.2,277.6 822.3,273.6 829.4,277.6 822.3,281.7" fill="#ee5742" />
</g>
<polyline points="842.0,302.0 853.0,304.0" fill="none" stroke="#3a3c40" stroke-width="1.6" />
<path d="M840,299.5 l4,5 l-3,0.5 z" fill="#3a3c40"/>
<path d="M836,277 l1.6,7.4 l7.4,1.6 l-7.4,1.6 l-1.6,7.4 l-1.6,-7.4 l-7.4,-1.6 l7.4,-1.6 z" fill="#fff"/>
<g >
<polygon points="864.7,263.8 943.0,304.6 943.0,316.1 864.7,275.3" fill="#eeae1a" />
<polygon points="943.0,304.6 1040.9,247.5 1040.9,259.0 943.0,316.1" fill="#fbe2a0" />
<polygon points="864.7,263.8 962.6,206.7 1040.9,247.5 943.0,304.6" fill="#fbbc1d" />
</g>
<rect x="1036.6" y="180" width="8" height="70" fill="#fde3c0" opacity="0.8"/>
<polyline points="1041.0,180.0 1041.0,250.0" fill="none" stroke="#fff6ea" stroke-width="2.4" stroke-dasharray="0.1 4" stroke-linecap="round" />
<circle cx="939.7" cy="286.6" r="19.0" fill="none" stroke="#fff3cf" stroke-width="0.8" opacity="0.4"/>
<path d="M925.3,283.5 a14.9,14.9 0 0 1 20.5,-11.8" fill="none" stroke="#fff3cf" stroke-width="1.5" opacity="0.22000000000000003"/>
<g >
<polygon points="931.6,294.9 939.7,299.6 939.7,283.0 931.6,278.3" fill="#f3f6f9" />
<polygon points="939.7,299.6 947.8,294.9 947.8,278.3 939.7,283.0" fill="#dde5ec" />
<polygon points="931.6,278.3 939.7,273.6 947.8,278.3 939.7,283.0" fill="#ffffff" />
</g>
<polyline points="931.6,292.5 939.7,297.2 947.8,292.5" fill="none" stroke="#b9c6d1" stroke-width="0.55" />
<polyline points="931.6,290.2 939.7,294.9 947.8,290.2" fill="none" stroke="#b9c6d1" stroke-width="0.55" />
<polyline points="931.6,287.8 939.7,292.5 947.8,287.8" fill="none" stroke="#b9c6d1" stroke-width="0.55" />
<polyline points="931.6,285.4 939.7,290.1 947.8,285.4" fill="none" stroke="#b9c6d1" stroke-width="0.55" />
<polyline points="931.6,283.0 939.7,287.7 947.8,283.0" fill="none" stroke="#b9c6d1" stroke-width="0.55" />
<polyline points="931.6,280.7 939.7,285.4 947.8,280.7" fill="none" stroke="#b9c6d1" stroke-width="0.55" />
<ellipse cx="939.7" cy="278.3" rx="3.1" ry="1.8" fill="none" stroke="#b4c3cf" stroke-width="0.7"/>
<polyline points="949.0,271.5 952.0,274.5 957.5,267.5" fill="none" stroke="#fdeeb8" stroke-width="1.8" stroke-linecap="round" stroke-linejoin="round"/>
<polyline points="912.0,171.7 955.6,148.5 955.6,181.5 912.0,202.3 912.0,171.7" fill="none" stroke="#f6b9b9" stroke-width="1.2" opacity="0.9"/>
<polyline points="917.0,174.2 960.6,151.0 960.6,184.0 917.0,204.8 917.0,174.2" fill="none" stroke="#f08f8f" stroke-width="1.2" opacity="0.9"/>
<polygon points="922.0,176.7 965.6,153.5 965.6,186.5 922.0,207.3" fill="#e04a4a" />
<polygon points="924.5,178.6 963.2,158.0 963.2,184.6 924.5,203.6" fill="#3b3e45" />
<g fill="none" stroke="#f2f2f2" stroke-width="0.8"><polygon points="932,186 941,177 953,173 958,178 950,190 938,194"/><polyline points="941,177 945,186 958,178"/><polyline points="945,186 938,194"/><polyline points="932,186 938,181 953,173"/></g>
<circle cx="946" cy="186" r="2.6" fill="#e23b23"/>
<polyline points="919.8,228.0 919.8,251.5" fill="none" stroke="#33353a" stroke-width="1.5" />
<polyline points="993.0,220.0 993.0,243.0" fill="none" stroke="#33353a" stroke-width="1.5" />
<polygon points="918.4,224.5 950.2,241.6 950.2,244.8 918.4,227.7" fill="#9a9ca1" />
<polygon points="950.2,241.6 994.3,215.9 994.3,219.1 950.2,244.8" fill="#c4c6ca" />
<polygon points="918.4,224.5 962.5,198.8 994.3,215.9 950.2,241.6" fill="#595b61" />
<polyline points="950.2,245.0 950.2,267.5" fill="none" stroke="#33353a" stroke-width="1.5" />
<polyline points="950.0,232.0 966.0,222.5" fill="none" stroke="#b9bbc0" stroke-width="2.2" />
<g >
<polygon points="937.0,225.7 941.0,228.0 941.0,223.4 937.0,221.1" fill="#f26838" />
<polygon points="941.0,228.0 945.0,225.7 945.0,221.1 941.0,223.4" fill="#d9303a" />
<polygon points="937.0,221.1 941.0,218.8 945.0,221.1 941.0,223.4" fill="#ee5742" />
</g>
<g >
<polygon points="933.0,221.1 941.0,225.7 941.0,217.0 933.0,212.4" fill="#f26838" />
<polygon points="941.0,225.7 949.0,221.1 949.0,212.4 941.0,217.0" fill="#d9303a" />
<polygon points="933.0,212.4 941.0,207.8 949.0,212.4 941.0,217.0" fill="#ee5742" />
</g>
<g >
<polygon points="937.0,212.4 941.0,214.7 941.0,210.1 937.0,207.8" fill="#f26838" />
<polygon points="941.0,214.7 945.0,212.4 945.0,207.8 941.0,210.1" fill="#d9303a" />
<polygon points="937.0,207.8 941.0,205.5 945.0,207.8 941.0,210.1" fill="#ee5742" />
</g>
<path d="M972.5,238 L974,267 L980,268 L981,247 L982.5,268.5 L988,269.5 L989.5,238 Z" fill="#ffffff"/>
<path d="M972.5,266.3 l7.5,1.3 l0,2.2 l-8,-1.4z M982,268.3 l6.5,1.2 l0.8,2.2 l-7.3,-1.3z" fill="#2b2f3a"/>
<path d="M967.5,200 Q968,194 975,193.5 L984,194 Q990.5,195 991,202 L992,240 L970.5,241 L970.5,205 L948.3,188.5 L950.3,184.3 L969.5,196 Z" fill="#ffffff"/>
<path d="M970.5,207 L970.5,241 L975,241 L975,211 Z" fill="#e4e8ed"/>
<circle cx="975.3" cy="185.8" r="5.3" fill="#eec4a0"/>
<path d="M971.3,182.5 Q973,175.8 979.5,176.3 Q986.5,177.5 987.3,186 L988.3,196 Q989,201.5 990.3,204.5 L976.5,205.3 Q978.5,198 977.6,191.5 Q976.5,185 971.3,182.5Z" fill="#54301a"/>
<g >
<polygon points="979.2,335.6 1058.2,379.4 1058.2,391.9 979.2,348.1" fill="#2fab9b" />
<polygon points="1058.2,379.4 1157.5,323.8 1157.5,336.3 1058.2,391.9" fill="#c4e6d1" />
<polygon points="979.2,335.6 1078.5,280.0 1157.5,323.8 1058.2,379.4" fill="#67c2b8" />
</g>
<circle cx="1055.8" cy="360.5" r="20.0" fill="none" stroke="#ffffff" stroke-width="0.8" opacity="0.45"/>
<path d="M1040.7,357.3 a15.7,15.7 0 0 1 21.6,-12.4" fill="none" stroke="#ffffff" stroke-width="1.5" opacity="0.24750000000000003"/>
<g >
<polygon points="1047.4,370.5 1055.8,375.4 1055.8,355.4 1047.4,350.5" fill="#f3f6f9" />
<polygon points="1055.8,375.4 1064.2,370.5 1064.2,350.5 1055.8,355.4" fill="#dde5ec" />
<polygon points="1047.4,350.5 1055.8,345.6 1064.2,350.5 1055.8,355.4" fill="#ffffff" />
</g>
<polyline points="1047.4,368.3 1055.8,373.1 1064.2,368.3" fill="none" stroke="#b9c6d1" stroke-width="0.55" />
<polyline points="1047.4,366.1 1055.8,370.9 1064.2,366.1" fill="none" stroke="#b9c6d1" stroke-width="0.55" />
<polyline points="1047.4,363.8 1055.8,368.7 1064.2,363.8" fill="none" stroke="#b9c6d1" stroke-width="0.55" />
<polyline points="1047.4,361.6 1055.8,366.5 1064.2,361.6" fill="none" stroke="#b9c6d1" stroke-width="0.55" />
<polyline points="1047.4,359.4 1055.8,364.2 1064.2,359.4" fill="none" stroke="#b9c6d1" stroke-width="0.55" />
<polyline points="1047.4,357.2 1055.8,362.0 1064.2,357.2" fill="none" stroke="#b9c6d1" stroke-width="0.55" />
<polyline points="1047.4,354.9 1055.8,359.8 1064.2,354.9" fill="none" stroke="#b9c6d1" stroke-width="0.55" />
<polyline points="1047.4,352.7 1055.8,357.6 1064.2,352.7" fill="none" stroke="#b9c6d1" stroke-width="0.55" />
<ellipse cx="1055.8" cy="350.5" rx="3.2" ry="1.8" fill="none" stroke="#b4c3cf" stroke-width="0.7"/>
<g opacity="0.72">
<polygon points="1075.0,309.0 1097.5,322.0 1097.5,271.0 1075.0,258.0" fill="#f29a9a" />
<polygon points="1097.5,322.0 1120.0,309.0 1120.0,258.0 1097.5,271.0" fill="#f5a9a9" />
<polygon points="1075.0,258.0 1097.5,245.0 1120.0,258.0 1097.5,271.0" fill="#f7b4b4" />
</g>
<polygon points="1075.0,309.0 1097.5,322.0 1120.0,309.0 1097.5,296.0" fill="#de6236" opacity="0.8"/>
<polyline points="1097.5,258.0 1097.5,304.0" fill="none" stroke="#3a3c40" stroke-width="1.2" />
<polyline points="1095.0,259.0 1100.0,259.0" fill="none" stroke="#3a3c40" stroke-width="1.2" />
<g >
<polygon points="1091.7,300.7 1097.5,304.0 1097.5,297.4 1091.7,294.0" fill="#f26838" />
<polygon points="1097.5,304.0 1103.3,300.7 1103.3,294.0 1097.5,297.4" fill="#d9303a" />
<polygon points="1091.7,294.0 1097.5,290.7 1103.3,294.0 1097.5,297.4" fill="#ee5742" />
</g>
<g >
<polygon points="1086.0,294.0 1097.5,300.7 1097.5,288.0 1086.0,281.4" fill="#f26838" />
<polygon points="1097.5,300.7 1109.0,294.0 1109.0,281.4 1097.5,288.0" fill="#d9303a" />
<polygon points="1086.0,281.4 1097.5,274.7 1109.0,281.4 1097.5,288.0" fill="#ee5742" />
</g>
<g >
<polygon points="1091.7,281.4 1097.5,284.7 1097.5,278.1 1091.7,274.7" fill="#f26838" />
<polygon points="1097.5,284.7 1103.3,281.4 1103.3,274.7 1097.5,278.1" fill="#d9303a" />
<polygon points="1091.7,274.7 1097.5,271.4 1103.3,274.7 1097.5,278.1" fill="#ee5742" />
</g>
<polyline points="1016.5,325.0 1016.5,344.0" fill="none" stroke="#33353a" stroke-width="1.5" />
<polyline points="1081.3,322.0 1081.3,341.0" fill="none" stroke="#33353a" stroke-width="1.5" />
<polygon points="1015.0,321.5 1045.5,338.5 1045.5,341.7 1015.0,324.7" fill="#9a9ca1" />
<polygon points="1045.5,338.5 1082.5,318.5 1082.5,321.7 1045.5,341.7" fill="#c4c6ca" />
<polygon points="1015.0,321.5 1052.0,301.5 1082.5,318.5 1045.5,338.5" fill="#595b61" />
<polyline points="1045.5,342.0 1045.5,360.0" fill="none" stroke="#33353a" stroke-width="1.5" />
<g >
<polygon points="1030.3,318.8 1047.2,328.5 1047.2,316.5 1030.3,306.8" fill="#b98058" />
<polygon points="1047.2,328.5 1064.1,318.8 1064.1,306.8 1047.2,316.5" fill="#c89068" />
<polygon points="1030.3,306.8 1047.2,297.0 1064.1,306.8 1047.2,316.5" fill="#a97050" />
</g>
<g >
<polygon points="1041.3,313.8 1046.0,316.5 1046.0,311.1 1041.3,308.4" fill="#f26838" />
<polygon points="1046.0,316.5 1050.7,313.8 1050.7,308.4 1046.0,311.1" fill="#d9303a" />
<polygon points="1041.3,308.4 1046.0,305.7 1050.7,308.4 1046.0,311.1" fill="#ee5742" />
</g>
<g >
<polygon points="1036.6,308.4 1046.0,313.8 1046.0,303.5 1036.6,298.1" fill="#f26838" />
<polygon points="1046.0,313.8 1055.4,308.4 1055.4,298.1 1046.0,303.5" fill="#d9303a" />
<polygon points="1036.6,298.1 1046.0,292.7 1055.4,298.1 1046.0,303.5" fill="#ee5742" />
</g>
<g >
<polygon points="1041.3,298.1 1046.0,300.8 1046.0,295.4 1041.3,292.7" fill="#f26838" />
<polygon points="1046.0,300.8 1050.7,298.1 1050.7,292.7 1046.0,295.4" fill="#d9303a" />
<polygon points="1041.3,292.7 1046.0,290.0 1050.7,292.7 1046.0,295.4" fill="#ee5742" />
</g>
<polygon points="1030.3,318.8 1047.2,328.5 1047.2,316.5 1030.3,306.8" fill="#c08a62" />
<polygon points="1047.2,328.5 1064.1,318.8 1064.1,306.8 1047.2,316.5" fill="#d7a57d" />
<g >
<polygon points="1123.5,250.2 1198.8,292.6 1198.8,304.1 1123.5,261.7" fill="#2fab9b" />
<polygon points="1198.8,292.6 1249.0,264.6 1249.0,276.1 1198.8,304.1" fill="#c4e6d1" />
<polygon points="1123.5,250.2 1173.7,222.2 1249.0,264.6 1198.8,292.6" fill="#67c2b8" />
</g>
<g >
<polygon points="1168.4,257.6 1186.3,268.0 1186.3,240.4 1168.4,230.0" fill="#2b3f9b" />
<polygon points="1186.3,268.0 1204.2,257.6 1204.2,230.0 1186.3,240.4" fill="#3d51ab" />
<polygon points="1168.4,230.0 1186.3,219.7 1204.2,230.0 1186.3,240.4" fill="#26348a" />
</g>
<g >
<polygon points="1182.2,246.6 1186.3,249.0 1186.3,244.2 1182.2,241.9" fill="#d05a40" />
<polygon points="1186.3,249.0 1190.4,246.6 1190.4,241.9 1186.3,244.2" fill="#dd6f55" />
<polygon points="1182.2,241.9 1186.3,239.5 1190.4,241.9 1186.3,244.2" fill="#e98a72" />
</g>
<g >
<polygon points="1178.1,241.9 1186.3,246.6 1186.3,237.6 1178.1,232.8" fill="#d05a40" />
<polygon points="1186.3,246.6 1194.5,241.9 1194.5,232.8 1186.3,237.6" fill="#dd6f55" />
<polygon points="1178.1,232.8 1186.3,228.1 1194.5,232.8 1186.3,237.6" fill="#e98a72" />
</g>
<g >
<polygon points="1182.2,232.8 1186.3,235.2 1186.3,230.5 1182.2,228.1" fill="#d05a40" />
<polygon points="1186.3,235.2 1190.4,232.8 1190.4,228.1 1186.3,230.5" fill="#dd6f55" />
<polygon points="1182.2,228.1 1186.3,225.7 1190.4,228.1 1186.3,230.5" fill="#e98a72" />
</g>
<polygon points="1168.4,257.6 1186.3,268.0 1186.3,240.4 1168.4,230.0" fill="#2b3f9b" />
<polygon points="1186.3,268.0 1204.2,257.6 1204.2,230.0 1186.3,240.4" fill="#4456b0" />
<text x="0" y="0" font-size="11.5" fill="#fff" text-anchor="middle" font-family="DejaVu Sans, sans-serif" transform="translate(1177.3,250.5) skewY(30)">♻</text>
<circle cx="289.2" cy="191" r="25" fill="#dd8d2c" opacity="0.62" filter="url(#blur2)"/>
<circle cx="289.2" cy="191" r="22.4" fill="#df902e" opacity="0.9" filter="url(#blur05)"/>
<circle cx="289.2" cy="191" r="20.8" fill="url(#gDisc)"/>
<g filter="url(#blur1)" opacity="0.5">
<g fill="none" stroke="#ffffff" stroke-width="1.4" stroke-linejoin="round" >
<polygon points="283.0,204.4 289.2,208.0 295.4,204.4 295.4,197.3 289.2,193.7 283.0,197.3" fill="none"/>
<polyline points="283.0,197.3 289.2,200.8 295.4,197.3"/>
<polyline points="289.2,200.8 289.2,208.0"/>
</g>
<g fill="none" stroke="#ffffff" stroke-width="1.4" stroke-linejoin="round" >
<polygon points="276.8,197.3 289.2,204.4 301.6,197.3 301.6,183.7 289.2,176.5 276.8,183.7" fill="none"/>
<polyline points="276.8,183.7 289.2,190.8 301.6,183.7"/>
<polyline points="289.2,190.8 289.2,204.4"/>
<polyline points="283.0,200.8 283.0,187.3 295.4,180.1"/>
<polyline points="295.4,200.8 295.4,187.3 283.0,180.1"/>
<polyline points="276.8,190.5 289.2,197.6 301.6,190.5"/>
</g>
<g fill="none" stroke="#ffffff" stroke-width="1.4" stroke-linejoin="round" >
<polygon points="283.0,183.7 289.2,187.3 295.4,183.7 295.4,176.5 289.2,173.0 283.0,176.5" fill="none"/>
<polyline points="283.0,176.5 289.2,180.1 295.4,176.5"/>
<polyline points="289.2,180.1 289.2,187.3"/>
</g>
</g>
<g fill="none" stroke="#ececee" stroke-width="0.75" stroke-linejoin="round" >
<polygon points="283.0,204.4 289.2,208.0 295.4,204.4 295.4,197.3 289.2,193.7 283.0,197.3" fill="rgba(255,255,255,0.07)"/>
<polyline points="283.0,197.3 289.2,200.8 295.4,197.3"/>
<polyline points="289.2,200.8 289.2,208.0"/>
</g>
<g fill="none" stroke="#ececee" stroke-width="0.75" stroke-linejoin="round" >
<polygon points="276.8,197.3 289.2,204.4 301.6,197.3 301.6,183.7 289.2,176.5 276.8,183.7" fill="rgba(255,255,255,0.07)"/>
<polyline points="276.8,183.7 289.2,190.8 301.6,183.7"/>
<polyline points="289.2,190.8 289.2,204.4"/>
<polyline points="283.0,200.8 283.0,187.3 295.4,180.1"/>
<polyline points="295.4,200.8 295.4,187.3 283.0,180.1"/>
<polyline points="276.8,190.5 289.2,197.6 301.6,190.5"/>
</g>
<g fill="none" stroke="#ececee" stroke-width="0.75" stroke-linejoin="round" >
<polygon points="283.0,183.7 289.2,187.3 295.4,183.7 295.4,176.5 289.2,173.0 283.0,176.5" fill="rgba(255,255,255,0.07)"/>
<polyline points="283.0,176.5 289.2,180.1 295.4,176.5"/>
<polyline points="289.2,180.1 289.2,187.3"/>
</g>
<circle cx="1040.6" cy="158.5" r="25" fill="#dd8d2c" opacity="0.62" filter="url(#blur2)"/>
<circle cx="1040.6" cy="158.5" r="22.4" fill="#df902e" opacity="0.9" filter="url(#blur05)"/>
<circle cx="1040.6" cy="158.5" r="20.8" fill="url(#gDisc)"/>
<g filter="url(#blur1)" opacity="0.5">
<g fill="none" stroke="#ffffff" stroke-width="1.4" stroke-linejoin="round" >
<polygon points="1034.4,171.9 1040.6,175.5 1046.8,171.9 1046.8,164.8 1040.6,161.2 1034.4,164.8" fill="none"/>
<polyline points="1034.4,164.8 1040.6,168.3 1046.8,164.8"/>
<polyline points="1040.6,168.3 1040.6,175.5"/>
</g>
<g fill="none" stroke="#ffffff" stroke-width="1.4" stroke-linejoin="round" >
<polygon points="1028.2,164.8 1040.6,171.9 1053.0,164.8 1053.0,151.2 1040.6,144.0 1028.2,151.2" fill="none"/>
<polyline points="1028.2,151.2 1040.6,158.3 1053.0,151.2"/>
<polyline points="1040.6,158.3 1040.6,171.9"/>
<polyline points="1034.4,168.3 1034.4,154.8 1046.8,147.6"/>
<polyline points="1046.8,168.3 1046.8,154.8 1034.4,147.6"/>
<polyline points="1028.2,158.0 1040.6,165.1 1053.0,158.0"/>
</g>
<g fill="none" stroke="#ffffff" stroke-width="1.4" stroke-linejoin="round" >
<polygon points="1034.4,151.2 1040.6,154.8 1046.8,151.2 1046.8,144.0 1040.6,140.5 1034.4,144.0" fill="none"/>
<polyline points="1034.4,144.0 1040.6,147.6 1046.8,144.0"/>
<polyline points="1040.6,147.6 1040.6,154.8"/>
</g>
</g>
<g fill="none" stroke="#ececee" stroke-width="0.75" stroke-linejoin="round" >
<polygon points="1034.4,171.9 1040.6,175.5 1046.8,171.9 1046.8,164.8 1040.6,161.2 1034.4,164.8" fill="rgba(255,255,255,0.07)"/>
<polyline points="1034.4,164.8 1040.6,168.3 1046.8,164.8"/>
<polyline points="1040.6,168.3 1040.6,175.5"/>
</g>
<g fill="none" stroke="#ececee" stroke-width="0.75" stroke-linejoin="round" >
<polygon points="1028.2,164.8 1040.6,171.9 1053.0,164.8 1053.0,151.2 1040.6,144.0 1028.2,151.2" fill="rgba(255,255,255,0.07)"/>
<polyline points="1028.2,151.2 1040.6,158.3 1053.0,151.2"/>
<polyline points="1040.6,158.3 1040.6,171.9"/>
<polyline points="1034.4,168.3 1034.4,154.8 1046.8,147.6"/>
<polyline points="1046.8,168.3 1046.8,154.8 1034.4,147.6"/>
<polyline points="1028.2,158.0 1040.6,165.1 1053.0,158.0"/>
</g>
<g fill="none" stroke="#ececee" stroke-width="0.75" stroke-linejoin="round" >
<polygon points="1034.4,151.2 1040.6,154.8 1046.8,151.2 1046.8,144.0 1040.6,140.5 1034.4,144.0" fill="rgba(255,255,255,0.07)"/>
<polyline points="1034.4,144.0 1040.6,147.6 1046.8,144.0"/>
<polyline points="1040.6,147.6 1040.6,154.8"/>
</g>
<circle cx="120.3" cy="390.3" r="25" fill="#fbc98a" opacity="0.6" filter="url(#blur1)"/>
<circle cx="120.3" cy="390.3" r="23.4" fill="#fff" stroke="#f9b363" stroke-width="1.8"/>
<g >
<polygon points="113.6,405.6 120.3,409.5 120.3,401.8 113.6,397.9" fill="#a9abaf" />
<polygon points="120.3,409.5 127.0,405.6 127.0,397.9 120.3,401.8" fill="#bdbec2" />
<polygon points="113.6,397.9 120.3,394.0 127.0,397.9 120.3,401.8" fill="#d3d4d7" />
</g>
<g >
<polygon points="106.9,397.9 120.3,405.6 120.3,390.9 106.9,383.1" fill="#a9abaf" />
<polygon points="120.3,405.6 133.7,397.9 133.7,383.1 120.3,390.9" fill="#bdbec2" />
<polygon points="106.9,383.1 120.3,375.4 133.7,383.1 120.3,390.9" fill="#d3d4d7" />
</g>
<g >
<polygon points="113.6,383.1 120.3,387.0 120.3,379.3 113.6,375.4" fill="#a9abaf" />
<polygon points="120.3,387.0 127.0,383.1 127.0,375.4 120.3,379.3" fill="#bdbec2" />
<polygon points="113.6,375.4 120.3,371.5 127.0,375.4 120.3,379.3" fill="#d3d4d7" />
</g>
<polyline points="1054.8,182.2 1094.0,205.0 1094.0,222.0" fill="none" stroke="#8fc8e8" stroke-width="1.3" stroke-dasharray="3.4 3"/>
<g fill="none" stroke="#62b5e0" stroke-width="2.9" stroke-linecap="round"><path d="M1083.6,230.6 a15.5,15.5 0 0 1 23,0"/><path d="M1088.8,235.2 a8.6,8.6 0 0 1 12.6,0"/></g><circle cx="1095.1" cy="240.6" r="2.1" fill="#62b5e0"/>
<polyline points="255.0,169.0 270.0,169.0" fill="none" stroke="#8fd0e6" stroke-width="1" />
<polyline points="218.5,257.2 241.0,257.2 249.0,264.5" fill="none" stroke="#9cd3e8" stroke-width="0.9" />
<polyline points="352.0,330.0 352.0,351.0 358.0,351.0" fill="none" stroke="#9cc8de" stroke-width="0.9" />
<polyline points="352.0,330.0 402.0,312.0" fill="none" stroke="#9cc8de" stroke-width="0.8" />
<polyline points="409.0,396.0 409.0,375.0 455.0,357.0" fill="none" stroke="#9cc8de" stroke-width="0.9" />
<polyline points="806.0,187.0 777.0,203.0 766.0,221.0" fill="none" stroke="#d98cb3" stroke-width="0.9" />
<polyline points="705.5,381.0 705.5,357.0 672.0,340.0" fill="none" stroke="#b896ab" stroke-width="0.9" />
<polyline points="913.6,361.0 913.6,343.5 884.0,324.0" fill="none" stroke="#b896ab" stroke-width="0.9" />
<polyline points="907.0,215.0 925.0,217.0 935.0,222.0" fill="none" stroke="#f3cf6a" stroke-width="0.9" />
<polyline points="985.0,134.0 985.0,150.0 966.0,172.0" fill="none" stroke="#f1cf5f" stroke-width="0.9" />
<polyline points="1064.0,157.0 1078.0,152.0" fill="none" stroke="#f3c27a" stroke-width="0.9" />
<polyline points="1153.0,398.0 1153.0,350.0 1108.0,333.0" fill="none" stroke="#93bdb4" stroke-width="0.9" />
<polyline points="1247.0,232.0 1247.0,251.0 1225.0,268.0" fill="none" stroke="#a7dccf" stroke-width="0.9" />
<rect x="41" y="443" width="215" height="97" fill="#fff" stroke="#6f7176" stroke-width="1.3"/>
<rect x="49.5" y="455.5" width="44" height="11" rx="3" fill="#f9a94a" opacity="0.75" filter="url(#blur1)"/><rect x="52.5" y="458.3" width="38" height="5" rx="1" fill="#fffdf8"/>
<rect x="49.5" y="479" width="44" height="10.5" rx="4" fill="#f9ae55" opacity="0.7" filter="url(#blur1)"/>
<polyline points="54.0,484.3 90.0,484.3" fill="none" stroke="#fff0d8" stroke-width="3.1" stroke-dasharray="0.1 4.4" stroke-linecap="round"/>
<path d="M60.5,513.5 l8.2,-4.6 l8.2,4.6 l-8.2,4.6 z" fill="#c6e6f5" stroke="#7cc4e6" stroke-width="1.1"/><ellipse cx="68.7" cy="513.2" rx="3.6" ry="1.8" fill="#fff"/>
<text x="279.5" y="19.3" font-size="15" text-anchor="start" fill="#2590d0" font-weight="500" >基于增材思维的设计</text>
<text x="630.5" y="19.3" font-size="15" text-anchor="start" fill="#d95c9f" font-weight="500" >增材制造</text>
<text x="894.5" y="19.3" font-size="15" text-anchor="start" fill="#f2a71b" font-weight="500" >验证实验</text>
<text x="1082.5" y="19.3" font-size="15" text-anchor="start" fill="#3aae9e" font-weight="500" >服务维保</text>
<text x="427.8" y="66.6" font-size="14.8" text-anchor="start" fill="#ffffff" font-weight="500" >【<tspan dx="2.5">质保 </tspan><tspan dx="1">+ </tspan><tspan dx="1">零件验证</tspan><tspan dx="1.8">/</tspan><tspan dx="2">确认</tspan><tspan dx="3">】</tspan><tspan dx="-1">信息流</tspan></text>
<text x="449.7" y="507.5" font-size="14.8" text-anchor="start" fill="#ffffff" font-weight="500" >【<tspan dx="2.5">持续迭代优化改进</tspan><tspan dx="3">】</tspan><tspan dx="-0.5">信息流</tspan></text>
<text x="250.0" y="178.8" font-size="15.0" text-anchor="end" fill="#4c4f55" font-weight="500" >建立孪生<tspan text-decoration="underline">数字体</tspan></text>
<text x="258.0" y="196.8" font-size="15.0" text-anchor="end" fill="#4c4f55" font-weight="500" ><tspan dx="-4.5">（</tspan><tspan dx="4.5">与DTAM并行</tspan><tspan dx="7">）</tspan></text>
<text x="361.5" y="186.3" font-size="15.0" text-anchor="start" fill="#4c4f55" font-weight="500" >生成CAD模型文件</text>
<text x="44.0" y="248.0" font-size="15.0" text-anchor="start" fill="#4c4f55" font-weight="500" >基于增材思维的设计<tspan dx="5">：</tspan></text>
<text x="110.5" y="263.6" font-size="10.05" text-anchor="end" fill="#3a3d42" font-weight="400" >工艺仿真调整设计</text>
<text x="110.5" y="275.7" font-size="10.05" text-anchor="end" fill="#3a3d42" font-weight="400" >仿生设计</text>
<text x="110.5" y="287.8" font-size="10.05" text-anchor="end" fill="#3a3d42" font-weight="400" >基于<tspan letter-spacing="0.35">MBSE</tspan>的正向设计</text>
<text x="110.5" y="299.9" font-size="10.05" text-anchor="end" fill="#3a3d42" font-weight="400" >创新方法及设计</text>
<text x="110.5" y="312.0" font-size="10.05" text-anchor="end" fill="#3a3d42" font-weight="400" >定制化设计</text>
<text x="110.5" y="324.1" font-size="10.05" text-anchor="end" fill="#3a3d42" font-weight="400" >轻量化设计</text>
<text x="110.5" y="336.2" font-size="10.05" text-anchor="end" fill="#3a3d42" font-weight="400" >多件融合设计</text>
<text x="118.0" y="263.6" font-size="10.05" text-anchor="start" fill="#3a3d42" font-weight="400" ><tspan letter-spacing="0.4">DFF </tspan>面向功能的设计</text>
<text x="118.0" y="275.7" font-size="10.05" text-anchor="start" fill="#3a3d42" font-weight="400" ><tspan letter-spacing="0.45">DFAM </tspan>面向增材的设计</text>
<text x="118.0" y="287.8" font-size="10.05" text-anchor="start" fill="#3a3d42" font-weight="400" >创成式设计</text>
<text x="118.0" y="299.9" font-size="10.05" text-anchor="start" fill="#3a3d42" font-weight="400" >拓扑优化设计</text>
<text x="118.0" y="312.0" font-size="10.05" text-anchor="start" fill="#3a3d42" font-weight="400" >点阵设计</text>
<text x="392.0" y="366.5" font-size="15.0" text-anchor="end" fill="#4c4f55" font-weight="500" >多学科仿真</text>
<text x="392.0" y="384.5" font-size="15.0" text-anchor="end" fill="#4c4f55" font-weight="500" >分析优化</text>
<text x="456.0" y="417.0" font-size="15.0" text-anchor="end" fill="#4c4f55" font-weight="500" >增材制造工艺</text>
<text x="456.0" y="435.0" font-size="15.0" text-anchor="end" fill="#4c4f55" font-weight="500" >过程设计仿真</text>
<text x="456.0" y="453.0" font-size="15.0" text-anchor="end" fill="#4c4f55" font-weight="500" >分析优化</text>
<text x="594.0" y="232.7" font-size="15.0" text-anchor="end" fill="#4c4f55" font-weight="500" >工艺过程</text>
<text x="594.0" y="251.0" font-size="15.0" text-anchor="end" fill="#4c4f55" font-weight="500" >全息参数反馈</text>
<text x="754.0" y="103.0" font-size="15.0" text-anchor="start" fill="#4c4f55" font-weight="500" >工艺过程</text>
<text x="754.0" y="121.0" font-size="15.0" text-anchor="start" fill="#4c4f55" font-weight="500" >全息参数实时采集</text>
<text x="768.0" y="161.0" font-size="15.0" text-anchor="start" fill="#4c4f55" font-weight="500" >增材制造</text>
<text x="763.0" y="179.0" font-size="15.0" text-anchor="start" fill="#4c4f55" font-weight="500" >（<tspan dx="4">3D打印过程</tspan><tspan dx="5.5">）</tspan></text>
<text x="951.0" y="103.0" font-size="15.0" text-anchor="start" fill="#4c4f55" font-weight="500" >数据验证<tspan dx="0.8">/</tspan><tspan dx="0.8">确认</tspan><tspan dx="3"> +</tspan></text>
<text x="951.0" y="121.0" font-size="15.0" text-anchor="start" fill="#4c4f55" font-weight="500" >与孪生<tspan text-decoration="underline">数字体</tspan>对比</text>
<text x="907.0" y="212.7" font-size="15.0" text-anchor="end" fill="#4c4f55" font-weight="500" >导入</text>
<text x="907.0" y="231.1" font-size="15.0" text-anchor="end" fill="#4c4f55" font-weight="500" ><tspan text-decoration="underline">实体</tspan>零件</text>
<text x="1083.0" y="150.0" font-size="15.0" text-anchor="start" fill="#4c4f55" font-weight="500" >更新</text>
<text x="1083.0" y="168.0" font-size="15.0" text-anchor="start" fill="#4c4f55" font-weight="500" ><tspan text-decoration="underline">数字体</tspan></text>
<text x="1210.0" y="186.0" font-size="15.0" text-anchor="start" fill="#4c4f55" font-weight="500" >零件生命</text>
<text x="1210.0" y="204.0" font-size="15.0" text-anchor="start" fill="#4c4f55" font-weight="500" >周期管理</text>
<text x="1210.0" y="222.0" font-size="15.0" text-anchor="start" fill="#4c4f55" font-weight="500" >及回收</text>
<text x="875.0" y="377.0" font-size="15.0" text-anchor="start" fill="#4c4f55" font-weight="500" >逐一进行</text>
<text x="875.0" y="395.0" font-size="15.0" text-anchor="start" fill="#4c4f55" font-weight="500" >零件后处理</text>
<text x="667.0" y="400.0" font-size="15.0" text-anchor="start" fill="#4c4f55" font-weight="500" >参数标定 +</text>
<text x="667.0" y="418.0" font-size="15.0" text-anchor="start" fill="#4c4f55" font-weight="500" >切片算法 +</text>
<text x="667.0" y="436.0" font-size="15.0" text-anchor="start" fill="#4c4f55" font-weight="500" >工艺计算</text>
<text x="1156.0" y="413.0" font-size="15.0" text-anchor="end" fill="#4c4f55" font-weight="500" >零件检测<tspan dx="1.2">/</tspan><tspan dx="1.2">维修等</tspan></text>
<text x="1156.0" y="432.0" font-size="15.0" text-anchor="end" fill="#4c4f55" font-weight="500" >服务</text>
<text x="5.0" y="419.0" font-size="15.0" text-anchor="start" fill="#4c4f55" font-weight="500" >产品需求导入<tspan dx="2.5">：</tspan></text>
<text x="5.0" y="437.0" font-size="15.0" text-anchor="start" fill="#4c4f55" font-weight="500" ><tspan letter-spacing="1">DTAM</tspan>增材制造数字孪生线程</text>
<text x="106.0" y="464.5" font-size="9.9" text-anchor="start" fill="#3f4247" font-weight="500" >数字线程</text>
<text x="106.0" y="487.5" font-size="9.9" text-anchor="start" fill="#3f4247" font-weight="500" >数字孪生</text>
<text x="106.0" y="510.5" font-size="9.9" text-anchor="start" fill="#3f4247" font-weight="500" >知识库</text>
<text x="106.0" y="523.5" font-size="9.9" text-anchor="start" fill="#3f4247" font-weight="500" ><tspan dx="-2">（</tspan><tspan dx="3">随着进程执行而增长</tspan><tspan dx="3">）</tspan></text>
<text x="45.0" y="603.5" font-size="10.4" text-anchor="start" fill="#3a3d42" font-weight="400" textLength="313" lengthAdjust="spacingAndGlyphs">Copyright © 2017 Deloitte Development LLC. All rights reserved.</text>
</svg>
</body></html>
